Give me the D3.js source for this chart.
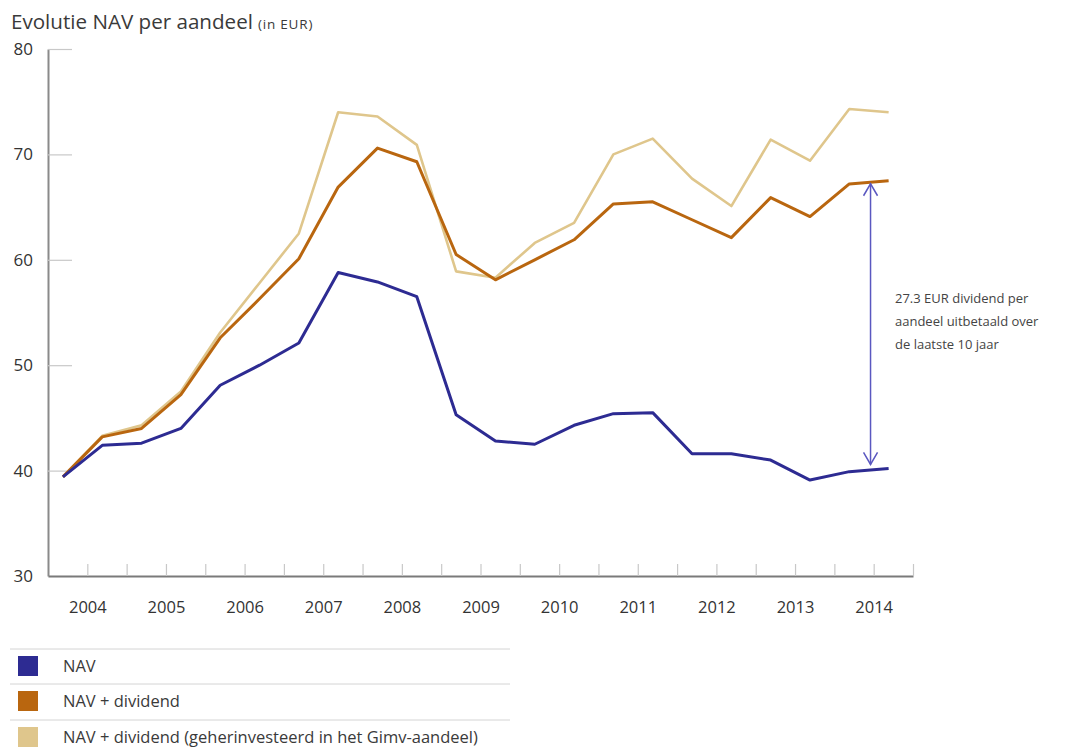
<!DOCTYPE html>
<html>
<head>
<meta charset="utf-8">
<script src="https://cdn.jsdelivr.net/npm/d3@7"></script>
<style>
  html, body { margin: 0; padding: 0; background: #fff; }
  svg { display: block; font-family: "Open Sans", "Noto Sans", sans-serif; }
</style>
</head>
<body>
<svg id="chart" width="1065" height="752"></svg>
<script>
// Half-yearly net asset value per share, 2004–2014 (EUR)
const years = [2004, 2005, 2006, 2007, 2008, 2009, 2010, 2011, 2012, 2013, 2014];
const yTicks = [30, 40, 50, 60, 70, 80];

const nav = [39.4, 42.4, 42.6, 44.0, 48.1, 50.0, 52.1, 58.8, 57.9, 56.5, 45.3,
             42.8, 42.5, 44.3, 45.4, 45.5, 41.6, 41.6, 41.0, 39.1, 39.9, 40.2];
const navDividend = [39.4, 43.2, 44.0, 47.2, 52.6, 56.3, 60.1, 66.9, 70.6, 69.3, 60.5,
                     58.1, 60.0, 61.9, 65.3, 65.5, 63.8, 62.1, 65.9, 64.1, 67.2, 67.5];
const navReinvested = [39.4, 43.3, 44.3, 47.5, 53.1, 57.8, 62.5, 74.0, 73.6, 70.9, 58.9,
                       58.3, 61.6, 63.5, 70.0, 71.5, 67.7, 65.1, 71.4, 69.4, 74.3, 74.0];

const seriesNames = ["NAV", "NAV + dividend", "NAV + dividend (geherinvesteerd in het Gimv-aandeel)"];
const seriesColors = ["#2d2b92", "#b9660f", "#dfc68c"];
const dividendTotal = 27.3;
const noteLines = [dividendTotal.toFixed(1) + " EUR dividend per", "aandeel uitbetaald over", "de laatste 10 jaar"];

const svg = d3.select("#chart");

// Scales: x in half-year slots (22 slots), y in EUR
const x = d3.scaleLinear().domain([0, 22]).range([48, 913]);
const y = d3.scaleLinear().domain([30, 80]).range([576, 49]);
const pointOffset = 0.38;
const px = i => x(i + pointOffset);

// Title
const title = svg.append("text").attr("x", 11).attr("y", 29)
  .attr("fill", "#3a3a3a").attr("font-size", 20.6);
title.append("tspan").text("Evolutie NAV per aandeel");
title.append("tspan").attr("font-size", 13.5).attr("letter-spacing", 0.8).attr("dx", 5).text("(in EUR)");

// Y axis with short inward ticks
const yAxis = svg.append("g").attr("transform", `translate(${x(0)},0)`)
  .call(d3.axisLeft(y).tickValues(yTicks).tickSizeInner(-24).tickSizeOuter(0).tickPadding(15));
yAxis.select(".domain").attr("stroke", "#8a8a8a").attr("stroke-width", 2);
yAxis.selectAll(".tick line").attr("stroke", "#c8c8c8").attr("stroke-width", 1.2);
yAxis.selectAll(".tick text").attr("fill", "#333").attr("font-size", 17)
  .attr("font-family", "\"Open Sans\", sans-serif");

// X axis: half-year ticks pointing up, year labels on every other tick
const yearAt = d3.range(1, 23);
const xAxis = svg.append("g").attr("transform", `translate(0,${y(30)})`)
  .call(d3.axisBottom(x).tickValues(yearAt).tickSizeInner(-12).tickSizeOuter(0).tickPadding(25)
    .tickFormat(d => (d % 2 === 1) ? String(years[(d - 1) / 2]) : ""));
xAxis.select(".domain").attr("stroke", "#7a7a7a").attr("stroke-width", 2);
xAxis.selectAll(".tick line").attr("stroke", "#c8c8c8").attr("stroke-width", 1.2);
xAxis.selectAll(".tick text").attr("fill", "#333").attr("font-size", 16.5)
  .attr("font-family", "\"Open Sans\", sans-serif");

// Lines
const line = d3.line().x((d, i) => px(i)).y(d => y(d));
const series = [navReinvested, navDividend, nav];
const colorsDraw = [seriesColors[2], seriesColors[1], seriesColors[0]];
const widths = [2.6, 3, 3];
series.forEach((s, k) => {
  svg.append("path").datum(s).attr("d", line)
    .attr("fill", "none").attr("stroke", colorsDraw[k])
    .attr("stroke-width", widths[k]).attr("stroke-linejoin", "round");
});

// Dividend arrow between NAV and NAV + dividend at the latest point
const last = nav.length - 1;
const ax = x(20.92);
const yTop = y(navDividend[last]) + 3;
const yBot = y(nav[last]) - 4;
const arrowColor = "#5a57c0";
const ag = svg.append("g").attr("stroke", arrowColor).attr("fill", "none").attr("stroke-width", 1.5);
ag.append("line").attr("x1", ax).attr("x2", ax).attr("y1", yTop).attr("y2", yBot);
ag.append("polyline").attr("points", `${ax - 7},${yTop + 12} ${ax},${yTop} ${ax + 7},${yTop + 12}`);
ag.append("polyline").attr("points", `${ax - 7},${yBot - 12} ${ax},${yBot} ${ax + 7},${yBot - 12}`);

// Annotation
const note = svg.append("text").attr("x", 895).attr("y", 303)
  .attr("fill", "#444").attr("font-size", 13);
noteLines.forEach((t, i) => note.append("tspan").attr("x", 895).attr("dy", i === 0 ? 0 : 23).text(t));

// Legend
const legend = svg.append("g");
const rowTop = [649, 684, 720];
rowTop.forEach(t => legend.append("line").attr("x1", 10).attr("x2", 510)
  .attr("y1", t).attr("y2", t).attr("stroke", "#d4d4d4").attr("stroke-width", 1));
seriesNames.forEach((name, i) => {
  const top = rowTop[i];
  legend.append("rect").attr("x", 18).attr("y", top + 7).attr("width", 20).attr("height", 20)
    .attr("fill", seriesColors[i]);
  legend.append("text").attr("x", 63).attr("y", top + 23).attr("fill", "#3a3a3a")
    .attr("font-size", 16.5).text(name);
});
</script>
</body>
</html>
